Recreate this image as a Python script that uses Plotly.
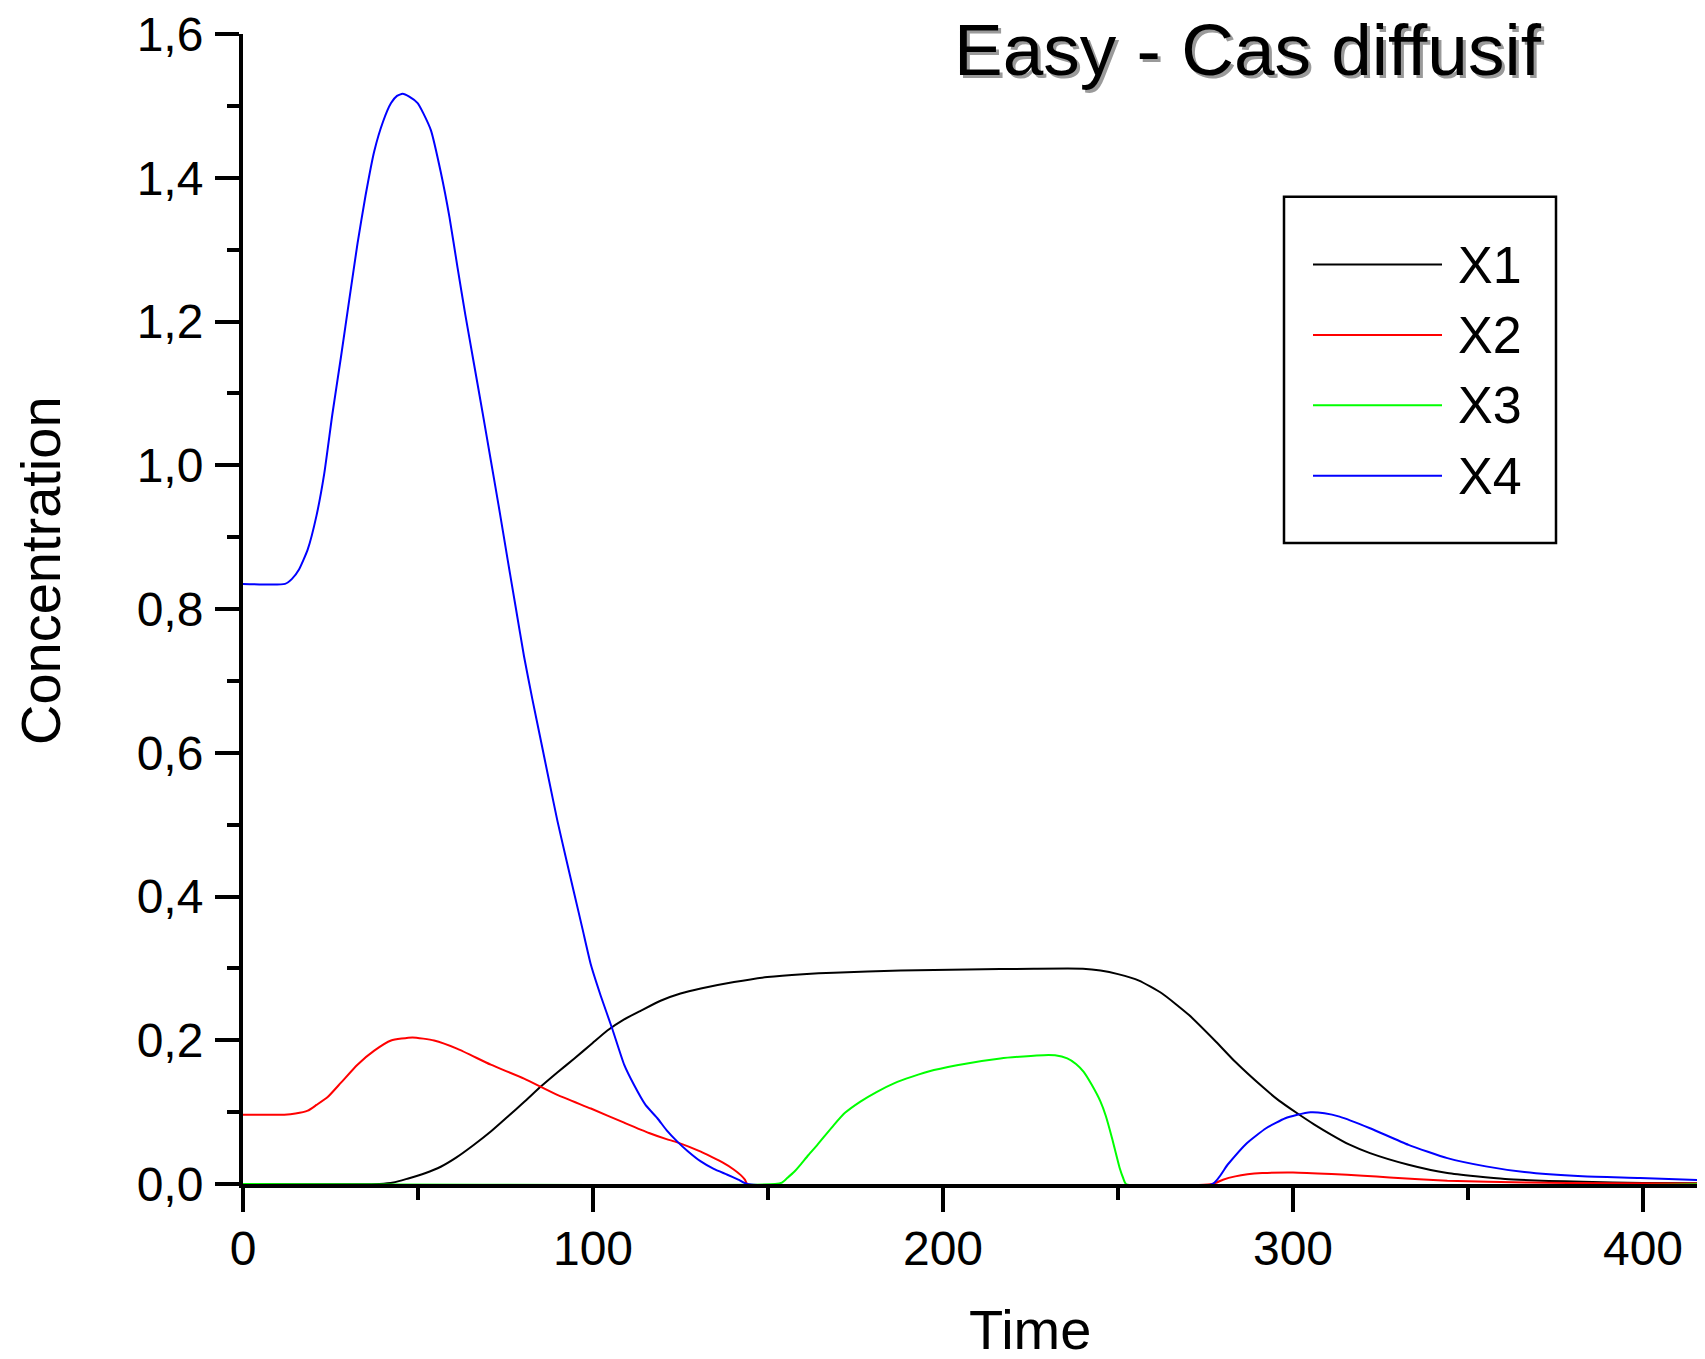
import plotly.graph_objects as go

# Series names and colours
series_names = ["X1", "X2", "X3", "X4"]
series_colors = ["#000000", "#ff0000", "#00ff00", "#0000ff"]

# X1 (black)
t_x1 = [0, 39, 43, 47, 52, 56.5, 61, 66, 70.8, 75.6, 80.3, 85.1, 89.8, 94.6, 99.4, 104.1, 108.9,
        113.6, 119.3, 125, 130.8, 140.3, 149.8, 160, 168.8, 187.9, 206.9, 225.9, 240, 245, 250,
        256, 262.6, 270.3, 278, 283.5, 291.2, 296, 301.2, 306, 311, 316, 322, 333, 344.1, 360.6,
        382.7, 400, 420]
c_x1 = [0, 0, 0.002, 0.0074, 0.015, 0.024, 0.037, 0.0546, 0.073, 0.0936, 0.114, 0.1355, 0.155,
        0.1744, 0.194, 0.2135, 0.229, 0.241, 0.255, 0.265, 0.272, 0.281, 0.288, 0.292, 0.294,
        0.297, 0.2985, 0.2995, 0.2995, 0.297, 0.292, 0.283, 0.265, 0.235, 0.198, 0.170, 0.1355,
        0.116, 0.0984, 0.083, 0.0684, 0.055, 0.043, 0.0268, 0.0152, 0.0069, 0.003, 0.0015, 0.001]

# X2 (red)
t_x2 = [0, 11.8, 15, 18.5, 21, 24.2, 28, 32.7, 37.5, 42.3, 48.4, 54.6, 61.3, 70.8, 80.3, 89.8,
        99.4, 108.9, 116, 121, 124.1, 130.8, 133.6, 137, 140.3, 142.3, 143.4, 144.1, 277, 280,
        283.5, 287, 291.2, 300, 311, 320, 327.6, 344.1, 367, 390, 420]
c_x2 = [0.0965, 0.0965, 0.098, 0.102, 0.110, 0.121, 0.141, 0.166, 0.1855, 0.1996, 0.204, 0.1996,
        0.188, 0.166, 0.1466, 0.124, 0.105, 0.0853, 0.071, 0.0625, 0.058, 0.045, 0.0384, 0.030,
        0.0199, 0.012, 0.006, 0, 0, 0.006, 0.0106, 0.0135, 0.0152, 0.016, 0.0139, 0.0115, 0.0092,
        0.0046, 0.002, 0.001, 0.0005]

# X3 (green)
t_x3 = [0, 152, 154, 155.5, 157.5, 159.3, 161.5, 164.1, 168.8, 172, 176.4, 181, 186, 191, 197.4,
        206.9, 216.4, 223, 228.8, 232, 235.5, 238, 240.2, 242.5, 245, 246.5, 248.3, 250.5, 251.5,
        252.3, 420]
c_x3 = [0, 0, 0.002, 0.0083, 0.017, 0.027, 0.040, 0.0545, 0.082, 0.099, 0.1147, 0.128, 0.14,
        0.149, 0.1585, 0.1678, 0.1747, 0.1775, 0.1793, 0.179, 0.1747, 0.167, 0.156, 0.138, 0.1147,
        0.095, 0.0638, 0.022, 0.008, 0, 0]

# X4 (blue)
t_x4 = [0, 12, 14, 16, 18.5, 21, 23.2, 25.5, 28, 30.5, 32.7, 35, 37.5, 40, 42.3, 44, 45.6, 47.5,
        49.9, 51.5, 53.7, 56.5, 59, 61.3, 63.5, 66, 68.5, 70.8, 73, 75.6, 78, 80.3, 82.7, 85.1,
        87.5, 89.8, 92.2, 94.6, 97, 99.4, 102.2, 105.5, 108.9, 111.7, 115, 118.4, 121, 124.1, 127,
        130.8, 134.5, 138.4, 141.5, 144.1, 277, 281.3, 286.8, 292.3, 297.8, 301, 305, 309, 313.3,
        322, 333, 344.1, 355.1, 366.1, 382.7, 399.2, 420]
c_x4 = [0.835, 0.835, 0.842, 0.855, 0.883, 0.93, 0.988, 1.07, 1.151, 1.235, 1.308, 1.375, 1.437,
        1.478, 1.504, 1.514, 1.517, 1.513, 1.504, 1.49, 1.466, 1.408, 1.345, 1.275, 1.21, 1.141,
        1.072, 1.007, 0.945, 0.869, 0.8, 0.734, 0.674, 0.617, 0.56, 0.506, 0.455, 0.405, 0.355,
        0.305, 0.262, 0.216, 0.166, 0.138, 0.11, 0.0915, 0.075, 0.059, 0.046, 0.0314, 0.021,
        0.0129, 0.006, 0, 0, 0.0268, 0.0568, 0.0776, 0.0915, 0.096, 0.0998, 0.0985, 0.0938,
        0.0776, 0.0545, 0.036, 0.0245, 0.0166, 0.0107, 0.0083, 0.0046]

times = [t_x1, t_x2, t_x3, t_x4]
concs = [c_x1, c_x2, c_x3, c_x4]

FONT = "Arial, Liberation Sans, sans-serif"
W, H = 1705, 1359
PAGE = 8  # default body margin of the html page
ML, MR, MT, MB = 235, 0, 24, 183

fig = go.Figure()
for name, col, t, c in zip(series_names, series_colors, times, concs):
    fig.add_trace(go.Scatter(x=t, y=c, mode="lines", name=name, showlegend=False,
                             line=dict(color=col, width=2, shape="spline", smoothing=0.5)))

fig.update_layout(
    width=W, height=H,
    margin=dict(l=ML, r=MR, t=MT, b=MB),
    paper_bgcolor="white", plot_bgcolor="white",
    separators=", ",
    font=dict(family=FONT, color="black"),
)

fig.update_xaxes(range=[0, 420], showgrid=False, zeroline=False,
                 showline=True, linecolor="black", linewidth=4, layer="below traces",
                 ticks="outside", ticklen=24, tickwidth=4, tickcolor="black",
                 tick0=0, dtick=100, tickformat="d", ticklabeloverflow="allow",
                 tickfont=dict(size=48, family=FONT), ticklabelstandoff=-5,
                 minor=dict(ticks="outside", ticklen=12, tickwidth=4, tickcolor="black",
                            dtick=50, showgrid=False))
fig.update_yaxes(range=[0, 1.6001], showgrid=False, zeroline=False,
                 showline=True, linecolor="black", linewidth=4, layer="below traces",
                 ticks="outside", ticklen=24, tickwidth=4, tickcolor="black",
                 tick0=0, dtick=0.2, tickformat=".1f", ticklabeloverflow="allow",
                 tickfont=dict(size=48, family=FONT), ticklabelstandoff=2,
                 minor=dict(ticks="outside", ticklen=12, tickwidth=4, tickcolor="black",
                            dtick=0.1, showgrid=False))

pw = W - ML - MR
ph = H - MT - MB


# helpers: screen pixel -> paper coordinate
def px_x(px):
    return (px - PAGE - ML) / pw


def px_y(py):
    return (H - MB - (py - PAGE)) / ph


# axis titles
fig.add_annotation(text="Time", xref="paper", yref="paper", x=px_x(1030), y=px_y(1330),
                   xanchor="center", yanchor="middle", showarrow=False,
                   font=dict(size=56, family=FONT))
fig.add_annotation(text="Concentration", xref="paper", yref="paper", x=px_x(40), y=px_y(570),
                   xanchor="center", yanchor="middle", showarrow=False, textangle=-90,
                   font=dict(size=56, family=FONT))

# title with drop shadow
for shift, col in [(3, "#9a9a9a"), (0, "black")]:
    fig.add_annotation(text="Easy - Cas diffusif", xref="paper", yref="paper",
                       x=px_x(1248), y=px_y(48), xshift=shift, yshift=-shift,
                       xanchor="center", yanchor="middle", showarrow=False,
                       font=dict(size=73, family=FONT, color=col))

# legend box drawn by hand (Origin style, long line samples)
fig.add_shape(type="rect", xref="paper", yref="paper",
              x0=px_x(1284), x1=px_x(1556), y0=px_y(542), y1=px_y(195),
              line=dict(color="black", width=2.5), fillcolor="white", layer="above")
row0, row_step = 263, 70.5
for i, (name, col) in enumerate(zip(series_names, series_colors)):
    ry = row0 + i * row_step
    fig.add_shape(type="line", xref="paper", yref="paper",
                  x0=px_x(1313), x1=px_x(1442), y0=px_y(ry), y1=px_y(ry),
                  line=dict(color=col, width=2), layer="above")
    fig.add_annotation(text=name, xref="paper", yref="paper", x=px_x(1456), y=px_y(ry),
                       xanchor="left", yanchor="middle", showarrow=False,
                       font=dict(size=52, family=FONT))

fig.write_html("out.html")
